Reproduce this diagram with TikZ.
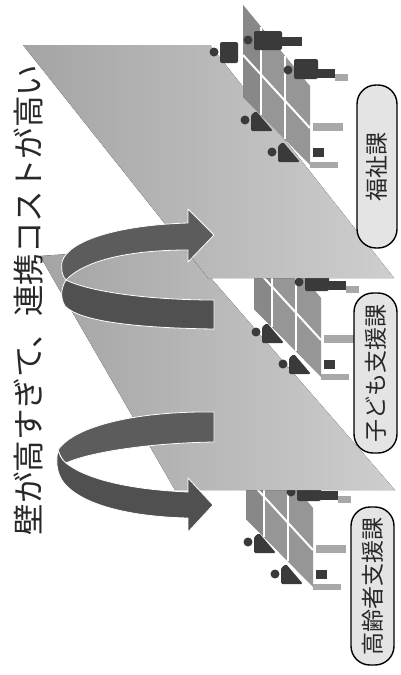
\documentclass[tikz,border=0pt]{standalone}
\usepackage{fontspec}
\newfontfamily\jp{Noto Sans CJK JP}
\definecolor{planeL}{RGB}{164,164,164}
\definecolor{planeR}{RGB}{206,206,206}
\definecolor{panelc}{RGB}{150,150,150}
\definecolor{paneldark}{RGB}{136,136,136}
\definecolor{personc}{RGB}{58,58,58}
\definecolor{deskc}{RGB}{168,168,168}
\definecolor{ribbon}{RGB}{92,92,92}
\definecolor{ribbondark}{RGB}{80,80,80}
\definecolor{pillfill}{RGB}{228,228,228}
\definecolor{inkc}{RGB}{40,40,40}

% one department: partition panels, staff and desks
\newcommand\deskcluster[2]{%
  \begin{scope}[shift={(#1,#2)}]
    \fill[panelc] (243,5) -- (310,86) -- (310,165) -- (243,97) -- cycle;
    \fill[paneldark] (243,5) -- (261,27) -- (261,115) -- (243,97) -- cycle;
    \draw[divider] (261,27) -- (261,115);
    \draw[divider] (285,56) -- (285,139);
    \draw[divider] (243,55) -- (310,128);
    % standing staff
    \fill[personc] (214,52) circle (4.5);
    \fill[personc, rounded corners=2] (220,42) rectangle (238,63);
    \fill[personc] (248,40) circle (4.5);
    \fill[personc, rounded corners=2] (254,31) rectangle (282,50);
    \fill[personc] (282,37) rectangle (302,46);
    \fill[personc] (288,70) circle (4.5);
    \fill[personc, rounded corners=2] (294,59) rectangle (318,79);
    \fill[personc] (318,69) rectangle (335,78);
    \fill[deskc] (335,74) rectangle (348,81);
    % seated staff
    \fill[personc] (245,120) circle (4.5);
    \fill[personc, rounded corners=1.5] (251,131) -- (251,115) -- (256,111) -- (273,131) -- cycle;
    \fill[personc] (272,152) circle (4.5);
    \fill[personc, rounded corners=1.5] (278,162) -- (278,146) -- (283,142) -- (300,162) -- cycle;
    % desks and chair
    \fill[deskc] (313,123) rectangle (343,131);
    \fill[deskc] (310,162) rectangle (338,168);
    \fill[personc] (313,148) rectangle (324,157);
  \end{scope}}

\begin{document}
\begin{tikzpicture}[x=1pt,y=-1pt,
  divider/.style={white, line width=2pt},
  wall/.style={left color=planeL, right color=planeR},
  band/.style={fill=ribbon, draw=white, line width=0.8pt, line join=round},
  banddark/.style={fill=ribbondark, draw=white, line width=0.8pt, line join=round},
  pill/.style={draw=black, line width=1.4pt, fill=pillfill, rounded corners=19pt,
    inner sep=0pt, rotate=90, font=\jp\fontsize{23}{23}\selectfont, text=inkc},
  headline/.style={rotate=90, inner sep=0pt, font=\jp\fontsize{31.5}{32}\selectfont, text=inkc}]

\useasboundingbox (0,0) rectangle (401,675);
\fill[white] (0,0) rectangle (401,675);

% departments behind the walls
\deskcluster{3}{422}
\fill[wall] (40,256) -- (183,246) -- (395,490) -- (175,490) -- cycle;
\deskcluster{11}{212}
\fill[wall] (23,45) -- (210,45) -- (394,278) -- (208,278) -- cycle;
\deskcluster{0}{0}

% upper ribbon arrow
\fill[banddark] (66,280) .. controls (90,292) and (150,300) .. (214,300)
  -- (214,329) .. controls (140,328) and (80,322) .. (65,306)
  .. controls (60,298) and (61,288) .. (66,280) -- cycle;
\fill[band] (62,262) .. controls (68,240) and (120,225) .. (188,223)
  -- (188,209) -- (214,235) -- (188,262) -- (188,250)
  .. controls (130,250) and (85,260) .. (66,280)
  .. controls (62,276) and (61,270) .. (62,262) -- cycle;

% lower ribbon arrow
\fill[band] (214,412) .. controls (140,411) and (75,425) .. (58,450)
  .. controls (60,456) and (62,460) .. (66,463)
  .. controls (90,452) and (150,443) .. (214,442) -- cycle;
\fill[banddark] (58,450) .. controls (55,465) and (58,475) .. (64,483)
  .. controls (85,508) and (140,517) .. (188,518) -- (188,532) -- (213,505)
  -- (188,478) -- (188,492) .. controls (140,490) and (90,482) .. (66,463)
  .. controls (62,460) and (60,456) .. (58,450) -- cycle;

% department labels
\node[pill, minimum width=163pt, minimum height=40pt] (fukushi) at (377,166.5) {福祉課};
\node[pill, minimum width=160pt, minimum height=43pt] (kodomo) at (375.5,373) {子ども支援課};
\node[pill, minimum width=158pt, minimum height=43pt] (koureisha) at (372.5,586) {高齢者支援課};

% headline
\node[headline] (title) at (28,300) {壁が高すぎて、連携コストが高い};
\end{tikzpicture}
\end{document}
